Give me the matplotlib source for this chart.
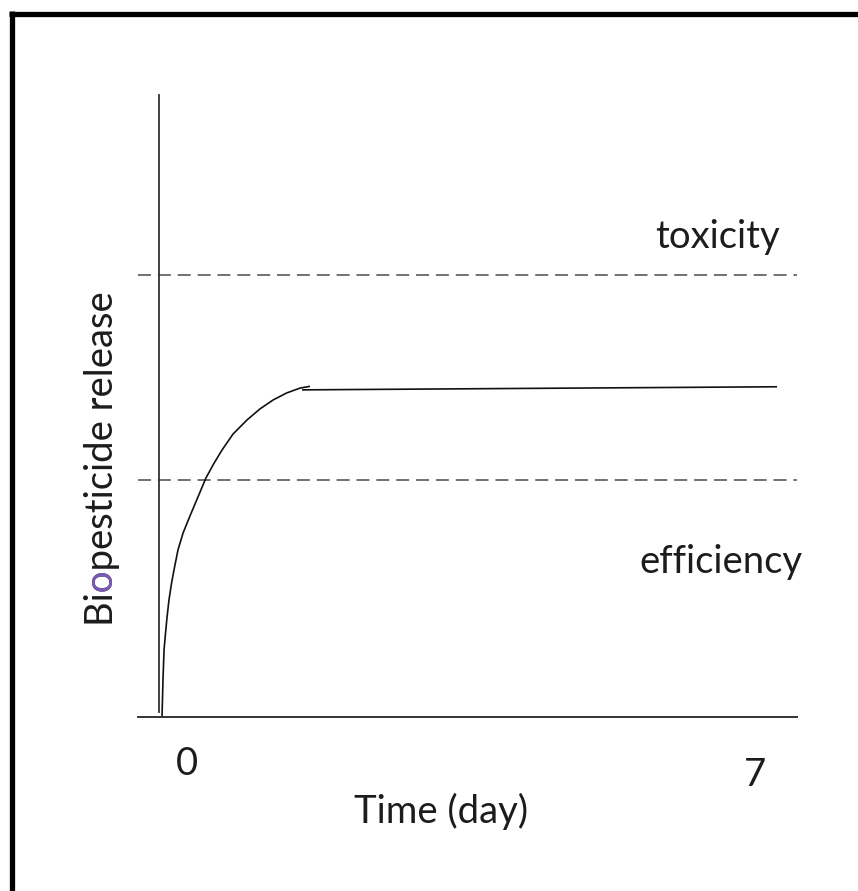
import matplotlib
matplotlib.use("Agg")
import matplotlib.pyplot as plt
from matplotlib.lines import Line2D
from matplotlib.transforms import Bbox

# ---------------- data ----------------
curve_time = [0.034, 0.045, 0.057, 0.074, 0.091, 0.113, 0.142, 0.176, 0.215, 0.272,
              0.345, 0.442, 0.532, 0.623, 0.714, 0.838, 0.997, 1.144, 1.291, 1.446,
              1.597, 1.71]
curve_release = [0.0, 0.084, 0.152, 0.190, 0.226, 0.265, 0.303, 0.339, 0.378, 0.416,
                 0.452, 0.498, 0.541, 0.574, 0.604, 0.640, 0.672, 0.697, 0.717, 0.733,
                 0.744, 0.748]
plateau_time = [1.62, 7.0]
plateau_release = [0.740, 0.747]
toxicity_level = 1.0
efficiency_level = 0.535
tick_values = [0, 7]
tick_labels = ["0", "7"]
x_label = "Time (day)"
y_label = "Biopesticide release"
threshold_labels = ["toxicity", "efficiency"]

# ---------------- figure ----------------
W, H, DPI = 858, 891, 100
fig = plt.figure(figsize=(W / DPI, H / DPI), dpi=DPI)
FONT = "Lato"
TXT = "#1c1c1c"
FS = 27.5

def fx(px):
    return px / W

def fy(py):
    return (H - py) / H

# axes box in pixels: x 138..797, y 95..717
ax = fig.add_axes([fx(138), fy(717), fx(797) - fx(138), fy(95) - fy(717)])
ax.set_xlim(-0.238, 7.226)
ax.set_ylim(0, 1.407)
ax.patch.set_alpha(0)
for s in ["top", "right"]:
    ax.spines[s].set_visible(False)
ax.spines["left"].set_position(("data", 0))
ax.spines["left"].set_bounds(0.011, 1.407)
ax.spines["left"].set_color("#333333")
ax.spines["left"].set_linewidth(1.3)
ax.spines["bottom"].set_color("#333333")
ax.spines["bottom"].set_linewidth(1.4)
ax.set_xticks([])
ax.set_yticks([])

# thresholds
ax.axhline(toxicity_level, color="#4a4a4a", lw=1.1, linestyle=(0, (8.5, 4.5)))
ax.axhline(efficiency_level, color="#4a4a4a", lw=1.1, linestyle=(0, (8.5, 4.5)))

# release curve
ax.plot(curve_time, curve_release, color="#111111", lw=1.2, solid_capstyle="butt",
        solid_joinstyle="round")
ax.plot(plateau_time, plateau_release, color="#111111", lw=1.2, solid_capstyle="butt")

# threshold labels
ax.text(6.32, toxicity_level + 0.061, threshold_labels[0], ha="center", va="baseline",
        fontsize=FS, family=FONT, color=TXT)
ax.text(6.37, efficiency_level - 0.209, threshold_labels[1], ha="center", va="baseline",
        fontsize=FS, family=FONT, color=TXT)

# tick labels (placed below the axis, offset as in the sketch)
tick_offsets = [(20, -42), (-16, -50)]  # points
for v, lab, off in zip(tick_values, tick_labels, tick_offsets):
    ax.annotate(lab, xy=(v, 0), xycoords="data", xytext=off, textcoords="offset points",
                ha="center", va="baseline", fontsize=FS, family=FONT, color=TXT)

# x label
fig.text(fx(441), fy(823), x_label, ha="center", va="baseline", fontsize=FS,
         family=FONT, color=TXT)

# y label with purple "o"
yl_kw = dict(rotation=90, rotation_mode="anchor", ha="center", va="baseline",
             fontsize=FS, family=FONT)
ylx, yly = fx(113), fy(458.5)
t_full = fig.text(ylx, yly, y_label, color=TXT, **yl_kw)
fig.canvas.draw()
r = fig.canvas.get_renderer()
full_ext = t_full.get_window_extent(r)
start_y = full_ext.y0
tmp1 = fig.text(0, 0, y_label[:2], rotation=90, fontsize=FS, family=FONT)
tmp2 = fig.text(0, 0, y_label[:3], rotation=90, fontsize=FS, family=FONT)
h1 = tmp1.get_window_extent(r).height
h2 = tmp2.get_window_extent(r).height
tmp1.remove(); tmp2.remove()
t_o = fig.text(ylx, yly, y_label, color="#7a5cb8", **yl_kw)
clip = Bbox([[full_ext.x0 - 5, start_y + h1 + 0.6], [full_ext.x1 + 5, start_y + h2 + 1.0]])
t_o.set_clip_box(clip)
t_o.set_clip_on(True)

# frame of the sketch (thick black border, top and left)
fig.add_artist(Line2D([fx(9), fx(858)], [fy(13.5), fy(13.5)], color="black", lw=3.8,
                      transform=fig.transFigure, solid_capstyle="butt"))
fig.add_artist(Line2D([fx(11.5), fx(11.5)], [fy(11), fy(891)], color="black", lw=3.8,
                      transform=fig.transFigure, solid_capstyle="butt"))

fig.savefig("out.png", dpi=DPI)
